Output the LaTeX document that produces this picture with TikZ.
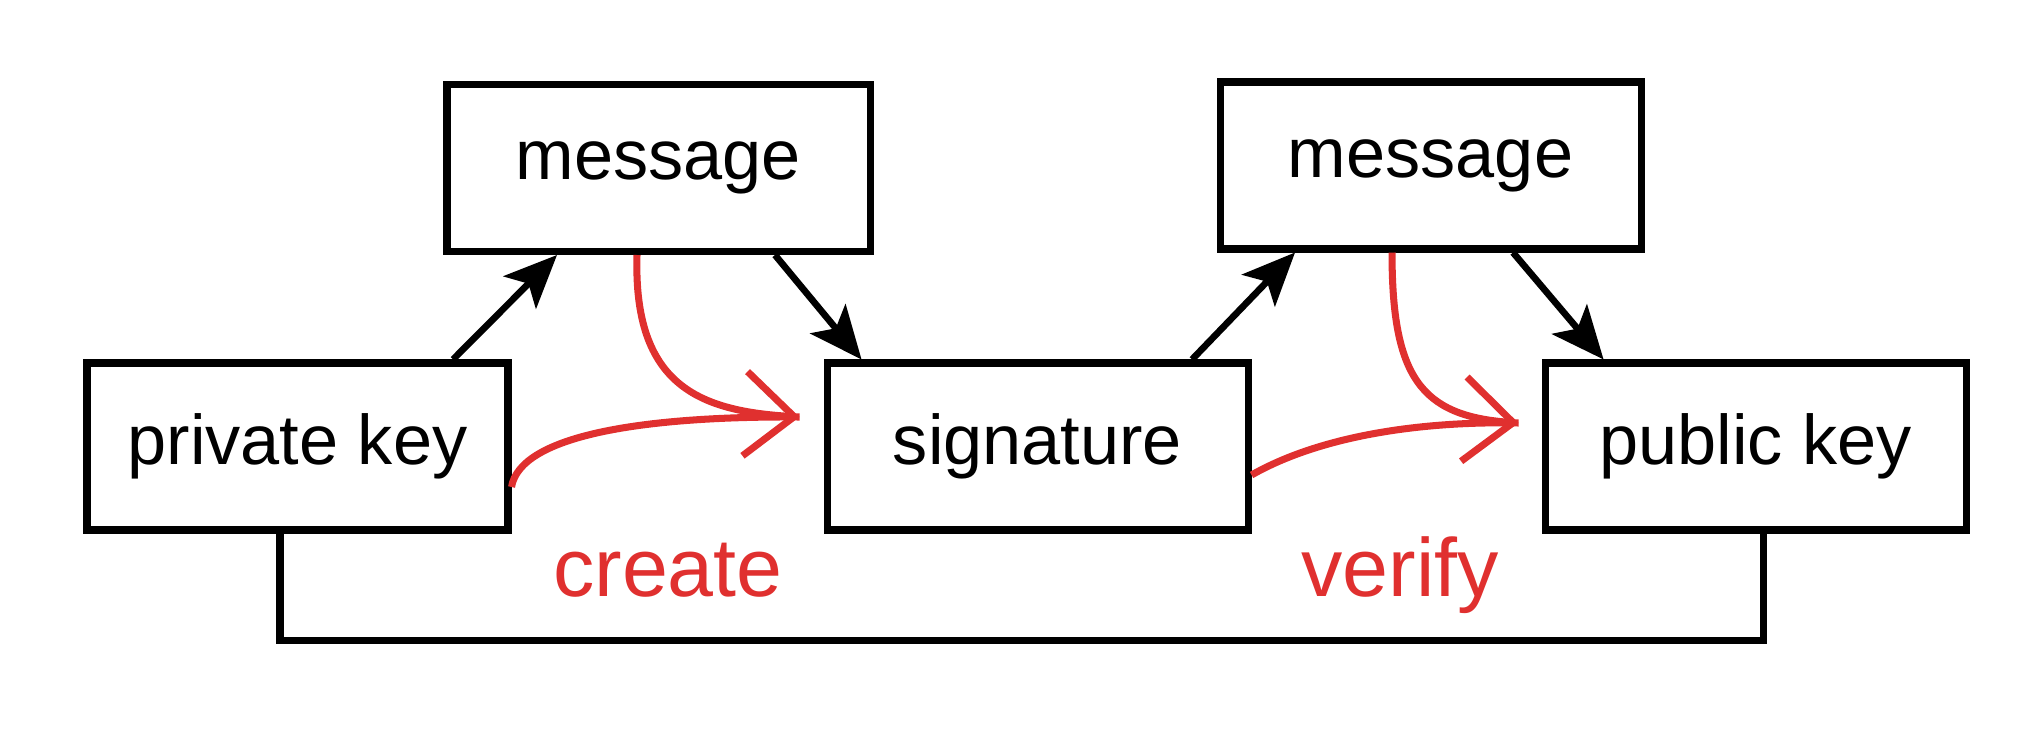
\documentclass[tikz,border=0pt]{standalone}
\usepackage{fontspec}
\setmainfont{Liberation Sans}
\usetikzlibrary{positioning,arrows.meta,calc}
\definecolor{sigred}{HTML}{E0302F}

\begin{document}
\begin{tikzpicture}[
      font=\fontsize{20}{24}\selectfont,
      box/.style={draw, line width=2pt, minimum width=4.21cm,
                  minimum height=1.67cm, inner sep=0pt},
      arr/.style={-{Stealth[length=15pt,width=13pt,inset=3.5pt]}, line width=1.9pt},
      redarr/.style={draw=sigred, line width=2pt},
      redlbl/.style={text=sigred, font=\fontsize{23.5}{28}\selectfont, anchor=base}
    ]
    \useasboundingbox (0,0) rectangle (20.42,7.36);

    % key / signature row
    \node[box] (priv) at (2.975,2.895) {private key};
    \node[box, right=3.12cm of priv] (sig) {signature};
    \node[box, right=2.9cm of sig] (pub) {public key};

    % messages
    \node[box, minimum width=4.23cm] (msgA) at (6.585,5.68) {message};
    \node[box] (msgB) at (14.305,5.705) {message};

    % black arrows
    \draw[arr] ([xshift=1.555cm]priv.north) -- ([xshift=-1.015cm]msgA.south);
    \draw[arr] ([xshift=1.165cm]msgA.south) -- ([xshift=-1.76cm]sig.north);
    \draw[arr] ([xshift=1.545cm]sig.north) -- ([xshift=-1.355cm]msgB.south);
    \draw[arr] ([xshift=0.825cm]msgB.south) -- ([xshift=-1.52cm]pub.north);

    % key loop
    \draw[line width=2pt] ([xshift=-0.175cm]priv.south) -- ++(0,-1.07)
      -| ([xshift=0.075cm]pub.south);

    % create
    \coordinate (crTip) at ([xshift=-0.24cm,yshift=0.295cm]sig.west);
    \draw[redarr] ([yshift=-0.405cm]priv.east) .. controls (5.2,3.0) and (6.4,3.2) .. (crTip);
    \draw[redarr, -{Straight Barb[length=14pt,width=24pt]}]
      ([xshift=-0.215cm]msgA.south) .. controls (6.33,3.5) and (7.0,3.25) .. (crTip);
    \node[redlbl] (create) at (6.68,1.40) {create};

    % verify
    \coordinate (vfTip) at ([xshift=-0.23cm,yshift=0.235cm]pub.west);
    \draw[redarr] ([yshift=-0.285cm]sig.east) .. controls (13.2,3.0) and (14.2,3.15) .. (vfTip);
    \draw[redarr, -{Straight Barb[length=14pt,width=24pt]}]
      ([xshift=-0.385cm]msgB.south) .. controls (13.92,3.6) and (14.2,3.2) .. (vfTip);
    \node[redlbl] (verify) at (14.00,1.40) {verify};
  \end{tikzpicture}
\end{document}
